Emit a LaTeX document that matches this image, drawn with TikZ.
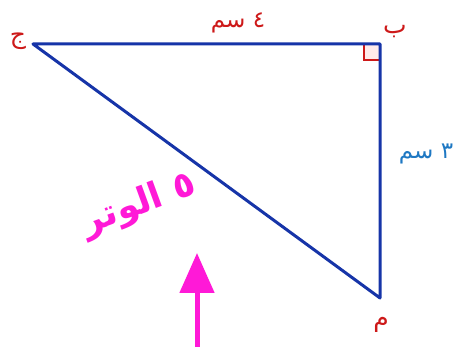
\documentclass[tikz,border=0pt]{standalone}
\usepackage{fontspec}
\usetikzlibrary{arrows.meta}
\TeXXeTstate=1
\newfontfamily\arabicfont[Script=Arabic]{DejaVu Sans}
\definecolor{triblue}{RGB}{22,52,168}
\definecolor{lblred}{RGB}{205,25,25}
\definecolor{lblblue}{RGB}{30,120,195}
\definecolor{mag}{RGB}{255,25,215}
\begin{document}
\begin{tikzpicture}[x=1pt,y=1pt,
  side/.style={draw=triblue,line width=3pt,line join=round},
  vlabel/.style={text=lblred,font=\arabicfont\fontsize{25}{28}\selectfont,inner sep=0pt},
  slabel/.style={font=\arabicfont\fontsize{23}{26}\selectfont,inner sep=0pt}]
\useasboundingbox (0,0) rectangle (461,347);
\coordinate (C) at (33,303);
\coordinate (B) at (380,303);
\coordinate (A) at (380,49);
\filldraw[fill=red!8,draw=lblred,line width=1.3pt] (364,303) rectangle (380,287);
\draw[side] (C) -- (B) -- (A) -- cycle;
\node[vlabel] (lc) at (18,306) {\beginR ج\endR};
\node[vlabel] (lb) at (395,315) {\beginR ب\endR};
\node[vlabel] (la) at (381,22) {\beginR م\endR};
\node[slabel,text=lblred] (top) at (238,324) {\beginR ٤ سم\endR};
\node[slabel,text=lblblue] (right) at (426,193) {\beginR ٣ سم\endR};
\node[text=mag,font=\arabicfont\bfseries\fontsize{36}{40}\selectfont,rotate=20,inner sep=0pt] (hyp) at (139,142) {\beginR ٥ الوتر\endR};
\coordinate (arrbot) at (197,0);
\coordinate (arrtop) at (197,94);
\draw[mag,line width=5pt,-{Triangle[length=40pt,width=34pt]}] (arrbot) -- (arrtop);
\end{tikzpicture}
\end{document}
